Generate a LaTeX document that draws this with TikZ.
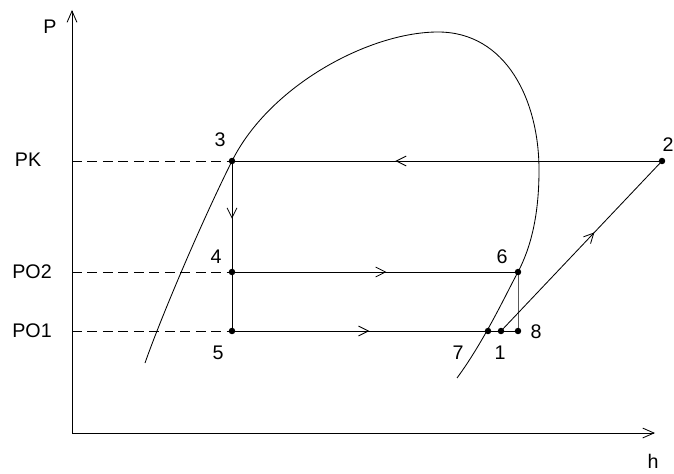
\documentclass[tikz,border=0pt]{standalone}
\usepackage{fontspec}
\setmainfont{Liberation Sans}
\usetikzlibrary{arrows.meta, calc, decorations.markings}

\tikzset{
  lbl/.style={font=\fontsize{14}{16}\selectfont, inner sep=0pt},
  tip/.style={-{Straight Barb[length=8pt,width=7pt]}},
  midarrow/.style={postaction={decorate}, decoration={markings,
      mark=at position #1 with {\arrow{Straight Barb[length=7pt,width=7pt]}}}},
}

\begin{document}
\begin{tikzpicture}[x=0.025cm, y=-0.025cm, line width=0.6pt]
    \useasboundingbox (0,0) rectangle (674,473);
    % axes
    \coordinate (O) at (72,433);
    \coordinate (ytop) at (72,10);
    \coordinate (xend) at (655,433);
    \draw[tip] (O) -- (ytop);
    \draw[tip] (O) -- (xend);
    \node[lbl] (P) at (50,27) {P};
    \node[lbl] (h) at (653,461) {h};
    % pressure levels
    \coordinate (pk) at (72,161);
    \coordinate (po2) at (72,272);
    \coordinate (po1) at (72,331);
    \node[lbl] (PK) at (28,160) {PK};
    \node[lbl] (PO2) at (32,272) {PO2};
    \node[lbl] (PO1) at (32,331) {PO1};
    % cycle points
    \coordinate (p1) at (501,331);
    \coordinate (p2) at (662,161);
    \coordinate (p3) at (232,161);
    \coordinate (p4) at (232,272);
    \coordinate (p5) at (232,331);
    \coordinate (p6) at (518,272);
    \coordinate (p7) at (488,331);
    \coordinate (p8) at (518,331);
    % saturation curve
    \draw (145,363) .. controls (160,320) and (200,225) .. (p3)
        .. controls (270,85) and (370,32) .. (438,32)
        .. controls (506,32) and (539,100) .. (539,170)
        .. controls (539,215) and (531,247) .. (p6)
        .. controls (508,290) and (485,340) .. (457,378);
    % dashed guides
    \draw[dashed, dash pattern=on 7pt off 4pt] (pk) -- (p3);
    \draw[dashed, dash pattern=on 7pt off 4pt] (po2) -- (p4);
    \draw[dashed, dash pattern=on 7pt off 4pt] (po1) -- (p5);
    % cycle
    \draw[midarrow=0.62] (p2) -- (p3);
    \draw[midarrow=0.52] (p3) -- (p4);
    \draw (p4) -- (p5);
    \draw[midarrow=0.54] (p4) -- (p6);
    \draw[midarrow=0.48] (p5) -- (p8);
    \draw[gray!70!black] (p6) -- (p8);
    \draw[midarrow=0.58] (p1) -- (p2);
    % dots
    \foreach \p in {p1,p2,p3,p4,p5,p6,p7,p8}
        \fill (\p) circle (2.3pt);
    % point labels
    \node[lbl] (l1) at (500,353) {1};
    \node[lbl] (l2) at (668,145) {2};
    \node[lbl] (l3) at (220,140) {3};
    \node[lbl] (l4) at (216,257) {4};
    \node[lbl] (l5) at (218,353) {5};
    \node[lbl] (l6) at (502,257) {6};
    \node[lbl] (l7) at (458,353) {7};
    \node[lbl] (l8) at (536,332) {8};
\end{tikzpicture}
\end{document}
